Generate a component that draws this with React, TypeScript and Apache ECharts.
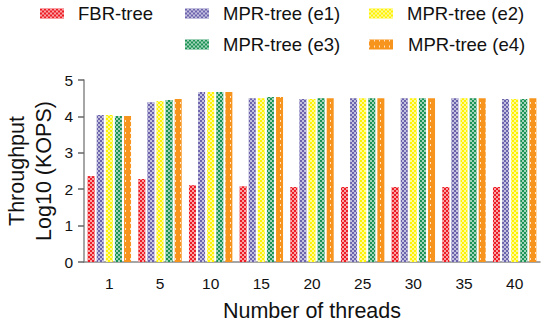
import React, { useEffect, useRef } from "react";
import * as echarts from "echarts";

const categories = ["1", "5", "10", "15", "20", "25", "30", "35", "40"];
const seriesNames = ["FBR-tree", "MPR-tree (e1)", "MPR-tree (e2)", "MPR-tree (e3)", "MPR-tree (e4)"];
const fbr = [2.36, 2.28, 2.11, 2.08, 2.06, 2.06, 2.06, 2.06, 2.06];
const e1 = [4.04, 4.39, 4.67, 4.5, 4.48, 4.5, 4.5, 4.5, 4.48];
const e2 = [4.04, 4.42, 4.67, 4.5, 4.48, 4.5, 4.5, 4.5, 4.48];
const e3 = [4.01, 4.45, 4.67, 4.53, 4.5, 4.5, 4.5, 4.5, 4.48];
const e4 = [4.01, 4.48, 4.67, 4.53, 4.5, 4.5, 4.5, 4.5, 4.5];
const colors = ["#ed1c24", "#6c63ad", "#fff200", "#1a9354", "#f7941d"];

const FONT = "Liberation Sans";

const checker = (alpha: number) => ({
  symbol: "rect",
  symbolSize: 1,
  color: `rgba(255,255,255,${alpha})`,
  dashArrayX: [[2, 2], [0, 2, 2, 0]],
  dashArrayY: [2, 0],
  rotation: 0,
});
const dots = {
  symbol: "rect",
  symbolSize: 1,
  color: "rgba(255,255,255,0.75)",
  dashArrayX: [1, 4],
  dashArrayY: [2, 4],
  rotation: 0,
};
const decals = [checker(0.6), checker(0.6), checker(0.6), checker(0.6), dots];

export default function App() {
  const ref = useRef<HTMLDivElement>(null);
  useEffect(() => {
    if (!ref.current) return;
    const chart = echarts.init(ref.current, null, { renderer: "svg" });
    const data = [fbr, e1, e2, e3, e4];
    const legendPos = [
      { left: 40, top: 4 },
      { left: 185, top: 4 },
      { left: 369, top: 4 },
      { left: 185, top: 35 },
      { left: 369, top: 35 },
    ];
    chart.setOption({
      animation: false,
      aria: { enabled: true, decal: { show: true } },
      color: colors,
      legend: seriesNames.map((n, i) => ({
        data: [n],
        left: legendPos[i].left,
        top: legendPos[i].top,
        padding: 0,
        itemWidth: 24,
        itemHeight: 10,
        icon: "rect",
        textStyle: { fontFamily: FONT, fontSize: 18.5, color: "#111", padding: [0, 0, 0, i === 4 ? 10 : 9] },
        selectedMode: false,
      })),
      grid: { left: 84, right: 8, top: 80, bottom: 64, containLabel: false, outerBoundsMode: "none" },
      xAxis: {
        type: "category",
        data: categories,
        name: "Number of threads",
        nameLocation: "middle",
        nameGap: 36,
        nameMoveOverlap: false,
        nameTextStyle: { fontFamily: FONT, fontSize: 21.5, color: "#111", lineHeight: 26 },
        axisLine: { lineStyle: { color: "#888", width: 1.5 } },
        axisTick: { alignWithLabel: true, length: 8, lineStyle: { color: "#444", width: 1.5 } },
        axisLabel: { fontFamily: FONT, fontSize: 15.5, color: "#111", margin: 13 },
      },
      yAxis: {
        type: "value",
        min: 0,
        max: 5,
        interval: 1,
        name: "Throughput\nLog10 (KOPS)",
        nameLocation: "middle",
        nameGap: 27,
        nameMoveOverlap: false,
        nameRotate: 90,
        nameTextStyle: { fontFamily: FONT, fontSize: 21.5, color: "#111", lineHeight: 26.5 },
        axisLine: { show: true, lineStyle: { color: "#888", width: 1.5 } },
        axisTick: { show: true, length: 6, lineStyle: { color: "#666", width: 1.5 } },
        axisLabel: { fontFamily: FONT, fontSize: 15.5, color: "#111", margin: 11 },
        splitLine: { show: false },
      },
      series: seriesNames.map((n, i) => ({
        name: n,
        type: "bar",
        data: data[i],
        barWidth: 7,
        barGap: "30%",
        itemStyle: { color: colors[i], decal: decals[i] },
      })),
    });
    return () => chart.dispose();
  }, []);
  return <div ref={ref} style={{ width: 548, height: 326, position: "absolute", left: 0, top: 0 }} />;
}
